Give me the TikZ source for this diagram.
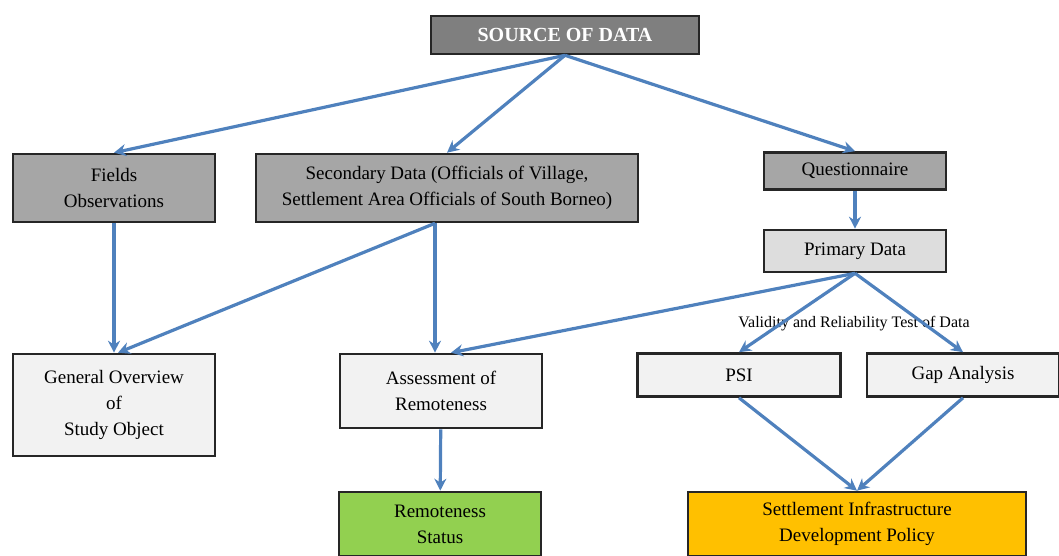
\documentclass[tikz,border=0pt]{standalone}
\usepackage{fontspec}
\setmainfont{Liberation Serif}
\usepackage{tikz}
\usetikzlibrary{arrows.meta}
\definecolor{arrowblue}{HTML}{4F81BD}
\definecolor{darkfill}{HTML}{7F7F7F}
\definecolor{midfill}{HTML}{A6A6A6}
\definecolor{lightfill}{HTML}{DDDDDD}
\definecolor{palefill}{HTML}{F2F2F2}
\definecolor{greenfill}{HTML}{92D050}
\definecolor{orangefill}{HTML}{FFC000}
\tikzstyle{arrow} = [line width=3.2pt, draw=arrowblue, -{Stealth[length=12pt,width=12pt]}]
\tikzstyle{diagnode} = [rectangle, draw=black!85, line width=2.6pt, align=center,
anchor=center, inner sep=2pt, font=\fontsize{19}{26}\selectfont]

\begin{document}
\begin{tikzpicture}[x=1pt,y=-1pt]
      \useasboundingbox (0,0) rectangle (1059,556);
      \node (0) [diagnode, fill=darkfill, text=white, font=\fontsize{20}{24}\selectfont\bfseries,
        minimum width=268pt, minimum height=38pt] at (565,35) {SOURCE OF DATA};
      \node (1) [diagnode, fill=midfill, minimum width=202pt, minimum height=68pt] at (114,188) {Fields\\Observations};
      \node (2) [diagnode, fill=midfill, minimum width=382pt, minimum height=68pt] at (447,188)
        {Secondary Data (Officials of Village,\\Settlement Area Officials of South Borneo)};
      \node (3) [diagnode, fill=midfill, minimum width=182pt, minimum height=37pt] at (855,171) {Questionnaire};
      \node (4) [diagnode, fill=lightfill, minimum width=182pt, minimum height=42pt] at (855,251) {Primary Data};
      \node (5) [diagnode, fill=palefill, minimum width=202pt, minimum height=102pt] at (114,405) {General Overview\\of\\Study Object};
      \node (6) [diagnode, fill=palefill, minimum width=202pt, minimum height=74pt] at (441,391) {Assessment of\\Remoteness};
      \node (7) [diagnode, fill=palefill, minimum width=203pt, minimum height=43pt] at (739,375) {PSI};
      \node (8) [diagnode, fill=palefill, minimum width=192pt, minimum height=43pt] at (963,375) {Gap Analysis};
      \node (9) [diagnode, fill=greenfill, minimum width=202pt, minimum height=64pt] at (440,524) {Remoteness\\Status};
      \node (10) [diagnode, fill=orangefill, minimum width=338pt, minimum height=64pt] at (857,524)
        {Settlement Infrastructure\\Development Policy};
      \node (11) [font=\fontsize{16}{18}\selectfont] at (854,324) {Validity and Reliability Test of Data};

      \draw [arrow] (0.south) -- (1.north);
      \draw [arrow] (0.south) -- (2.north);
      \draw [arrow] (0.south) -- (3.north);
      \draw [arrow] (3) -- (4);
      \draw [arrow] (1) -- (5);
      \draw [arrow] ([xshift=-12pt]2.south) -- ([xshift=4pt]5.north);
      \draw [arrow] ([xshift=-12pt]2.south) -- ([xshift=-6pt]6.north);
      \draw [arrow] (4.south) -- ([xshift=10pt]6.north);
      \draw [arrow] (4.south) -- (7.north);
      \draw [arrow] (4.south) -- (8.north);
      \draw [arrow] (6) -- (9);
      \draw [arrow] (7.south) -- (10.north);
      \draw [arrow] (8.south) -- (10.north);
    \end{tikzpicture}
\end{document}
